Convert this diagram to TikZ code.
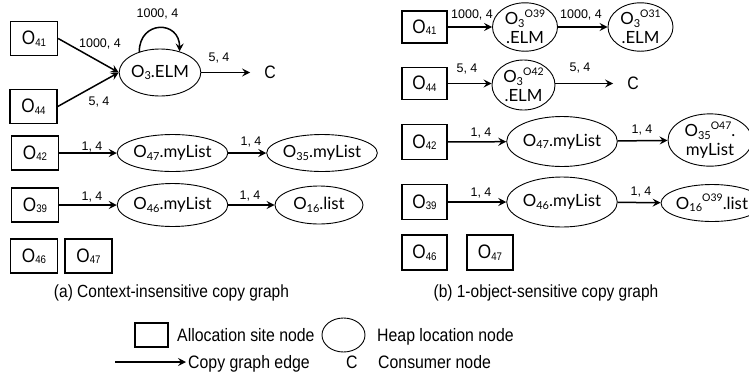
\documentclass[tikz,border=0pt]{standalone}
\usepackage{fontspec}
\setmainfont{Liberation Sans}
\newfontfamily\narrowf[FakeStretch=0.88]{Liberation Sans}
\newfontfamily\nodef{Lato}
\usetikzlibrary{arrows.meta,shapes.geometric}
\newcommand{\bsub}[1]{\raisebox{-1.5pt}{\fontsize{11}{11}\selectfont #1}}
\newcommand{\hsub}[1]{\raisebox{-2.5pt}{\fontsize{11}{11}\selectfont #1}}
\newcommand{\hsup}[1]{\raisebox{7.5pt}{\fontsize{10.5}{10.5}\selectfont #1}}
\tikzset{
  abox/.style={draw, line width=1.4pt, minimum width=47pt, minimum height=34pt, inner sep=0pt,
    font=\narrowf\fontsize{19.5}{19.5}\selectfont},
  heap/.style={draw, ellipse, line width=0.9pt, inner sep=0pt, align=center,
    font=\nodef\fontsize{16.8}{19}\selectfont},
  lab/.style={inner sep=0pt, font=\fontsize{12.5}{12.5}\selectfont},
  capt/.style={inner sep=0pt, font=\narrowf\fontsize{17.6}{17.6}\selectfont},
  txt/.style={inner sep=0pt, anchor=base west, font=\narrowf\fontsize{18}{18}\selectfont},
  cons/.style={inner sep=0pt, inner xsep=14pt, font=\narrowf\fontsize{18}{18}\selectfont},
  edge/.style={line width=1.5pt, -{Stealth[length=8pt,width=8pt,inset=3pt]}}
}
\begin{document}
\begin{tikzpicture}[x=1pt,y=-1pt]
\useasboundingbox (0,0) rectangle (749,381);
\clip (0,0) rectangle (749,381);
% ---------------- left panel ----------------
\node[abox] (lo41) at (34,38.5) {O\bsub{41}};
\node[abox] (lo44) at (33.5,106.5) {O\bsub{44}};
\node[heap, minimum width=65pt, minimum height=47pt] (lo3) at (160,72.5) {O\hsub{3}.ELM};
\node[cons] (lc) at (270,72.5) {C};
\draw[edge] (lo41.east) -- (lo3.west);
\draw[edge] (lo44.east) -- (lo3.west);
\draw[edge] (lo3.135) to[out=90,in=90,looseness=2.0] (lo3.47);
\draw[edge] (lo3) -- (lc);
\node[lab] (ll1) at (100,43.5) {1000, 4};
\node[lab] (ll2) at (99,102) {5, 4};
\node[lab] (ll3) at (157.5,13.5) {1000, 4};
\node[lab] (ll4) at (219,58) {5, 4};

\node[abox] (lo42) at (35,153) {O\bsub{42}};
\node[heap, minimum width=89pt, minimum height=37pt] (lo47) at (172.5,153) {O\hsub{47}.myList};
\node[heap, minimum width=90pt, minimum height=37pt] (lo35) at (322,153) {O\hsub{35}.myList};
\draw[edge] (lo42) -- (lo47);
\draw[edge] (lo47) -- (lo35);
\node[lab] (ll5) at (92,146.5) {1, 4};
\node[lab] (ll6) at (251,142) {1, 4};

\node[abox] (lo39) at (35,205) {O\bsub{39}};
\node[heap, minimum width=89pt, minimum height=43pt] (lo46) at (172.5,205) {O\hsub{46}.myList};
\node[heap, minimum width=88pt, minimum height=38pt] (lo16) at (319,205) {O\hsub{16}.list};
\draw[edge] (lo39) -- (lo46);
\draw[edge] (lo46) -- (lo16);
\node[lab] (ll7) at (92,197) {1, 4};
\node[lab] (ll8) at (250,196) {1, 4};

\node[abox] (lo46b) at (34,256) {O\bsub{46}};
\node[abox] (lo47b) at (88.5,256) {O\bsub{47}};
\node[capt] (capa) at (171.5,293) {(a) Context-insensitive copy graph};

% ---------------- right panel ----------------
\node[abox, minimum width=45pt, minimum height=32pt] (ro41) at (424.5,27) {O\bsub{41}};
\node[heap, minimum width=65pt, minimum height=47pt] (re1) at (525,27) {O\hsub{3}\hsup{O39}\\.ELM};
\node[heap, minimum width=65pt, minimum height=47pt] (re2) at (640.5,27) {O\hsub{3}\hsup{O31}\\.ELM};
\draw[edge] (ro41) -- (re1);
\draw[edge] (re1) -- (re2);
\node[lab] (rl1) at (472,15) {1000, 4};
\node[lab] (rl2) at (581,15) {1000, 4};

\node[abox, minimum width=45pt, minimum height=32pt] (ro44) at (424.5,83.5) {O\bsub{44}};
\node[heap, minimum width=63pt, minimum height=50pt] (re3) at (523.5,85) {O\hsub{3}\hsup{O42}\\.ELM};
\node[cons] (rc) at (633,83.5) {C};
\draw[edge] (ro44.east) -- (ro44.east -| re3.west);
\draw[edge] (re3.east |- rc.west) -- (rc.west);
\node[lab] (rl3) at (467,69) {5, 4};
\node[lab] (rl4) at (580,68) {5, 4};

\node[abox, minimum width=45pt, minimum height=35pt] (ro42) at (424.5,142) {O\bsub{42}};
\node[heap, minimum width=90pt, minimum height=50pt] (re4) at (562,141.5) {O\hsub{47}.myList};
\node[heap, minimum width=84pt, minimum height=48pt] (re5) at (710,140) {O\hsub{35}\hsup{O47}.\\myList};
\draw[edge] (ro42) -- (re4);
\draw[edge] (re4) -- (re5);
\node[lab] (rl5) at (481,133) {1, 4};
\node[lab] (rl6) at (642,130) {1, 4};

\node[abox, minimum width=45pt, minimum height=35pt] (ro39) at (424.5,202) {O\bsub{39}};
\node[heap, minimum width=90pt, minimum height=50pt] (re6) at (562,202) {O\hsub{46}.myList};
\node[heap, minimum width=80pt, minimum height=37pt] (re7) at (712,203) {O\hsub{16}\hsup{O39}.list};
\draw[edge] (ro39) -- (re6);
\draw[edge] (re6) -- (re7);
\node[lab] (rl7) at (481,193) {1, 4};
\node[lab] (rl8) at (641,192) {1, 4};

\node[abox, minimum width=45pt, minimum height=35pt] (ro46) at (424.5,252.5) {O\bsub{46}};
\node[abox, minimum width=46pt, minimum height=35pt] (ro47) at (490,252.5) {O\bsub{47}};
\node[capt] (capb) at (546,293) {(b) 1-object-sensitive copy graph};

% ---------------- legend ----------------
\node[draw, line width=1.4pt, minimum width=33pt, minimum height=24pt, inner sep=0pt] (lgbox) at (151.5,335) {};
\node[txt] (lgt1) at (177,341) {Allocation site node};
\node[draw, ellipse, line width=0.9pt, minimum width=43pt, minimum height=34pt, inner sep=0pt] (lgell) at (343.5,335) {};
\node[txt] (lgt2) at (377,341) {Heap location node};
\coordinate (la) at (115,362);
\coordinate (lb) at (186,362);
\draw[edge, line width=1.2pt] (la) -- (lb);
\node[txt] (lgt3) at (188,368) {Copy graph edge};
\node[txt] (lgc) at (346,368) {C};
\node[txt] (lgt4) at (378,368) {Consumer node};
\end{tikzpicture}
\end{document}
